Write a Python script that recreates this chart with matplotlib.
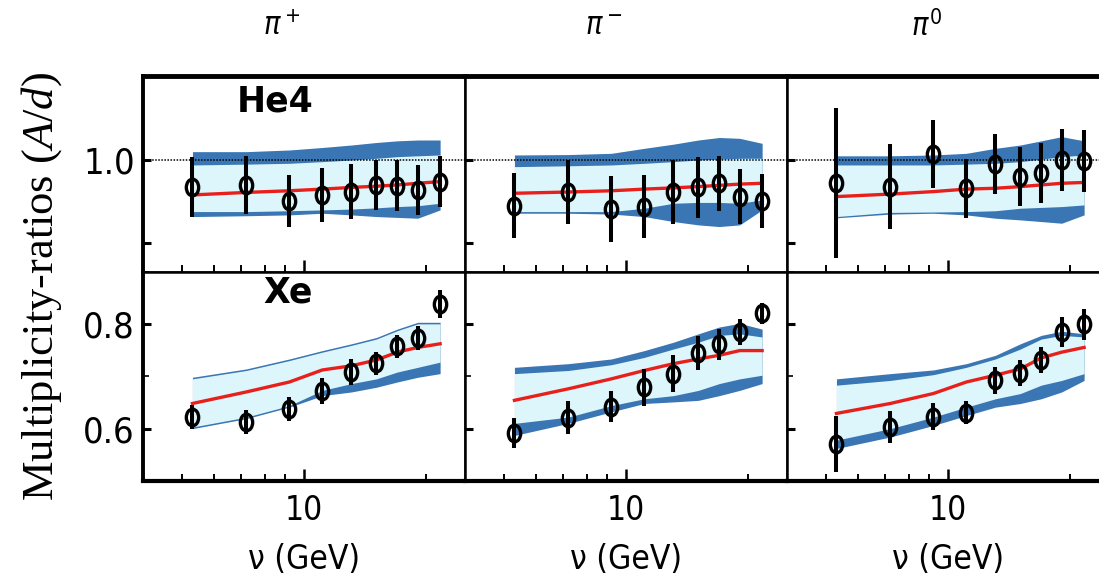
import matplotlib
matplotlib.use("Agg")
import matplotlib.pyplot as plt
from matplotlib import font_manager
from matplotlib.path import Path
from matplotlib.transforms import Affine2D
from matplotlib.ticker import NullFormatter

# nu bins (GeV), shared by all panels
nu = [5.3, 7.2, 9.2, 11.1, 13.1, 15.1, 17.0, 19.1, 21.7]

# ---- He4 / pi+ ----
he_pip = [0.936, 0.940, 0.902, 0.916, 0.924, 0.940, 0.938, 0.928, 0.948]
he_pip_err = [0.072, 0.069, 0.062, 0.065, 0.066, 0.061, 0.061, 0.060, 0.062]
he_pip_model = [0.916, 0.922, 0.926, 0.930, 0.934, 0.937, 0.940, 0.944, 0.948]
he_pip_dark_hi = [1.020, 1.020, 1.024, 1.030, 1.036, 1.042, 1.046, 1.048, 1.048]
he_pip_band_hi = [0.988, 0.990, 0.992, 0.996, 1.000, 1.004, 1.008, 1.010, 1.012]
he_pip_band_lo = [0.876, 0.876, 0.878, 0.880, 0.882, 0.885, 0.888, 0.890, 0.896]
he_pip_dark_lo = [0.864, 0.866, 0.868, 0.872, 0.868, 0.864, 0.862, 0.860, 0.880]

# ---- He4 / pi- ----
he_pim = [0.890, 0.922, 0.882, 0.888, 0.922, 0.934, 0.944, 0.912, 0.902]
he_pim_err = [0.078, 0.077, 0.079, 0.075, 0.077, 0.074, 0.066, 0.066, 0.065]
he_pim_model = [0.920, 0.923, 0.926, 0.930, 0.933, 0.936, 0.939, 0.942, 0.944]
he_pim_dark_hi = [1.012, 1.013, 1.016, 1.028, 1.038, 1.048, 1.054, 1.052, 1.040]
he_pim_band_hi = [0.984, 0.986, 0.988, 0.992, 0.996, 1.000, 1.002, 1.004, 1.004]
he_pim_band_lo = [0.876, 0.876, 0.876, 0.884, 0.896, 0.898, 0.898, 0.896, 0.904]
he_pim_dark_lo = [0.872, 0.872, 0.870, 0.864, 0.852, 0.844, 0.840, 0.844, 0.880]

# ---- He4 / pi0 ----
he_pi0 = [0.944, 0.936, 1.014, 0.932, 0.990, 0.960, 0.968, 1.000, 0.998]
he_pi0_err = [0.180, 0.103, 0.081, 0.071, 0.072, 0.071, 0.072, 0.074, 0.075]
he_pi0_model = [0.912, 0.918, 0.924, 0.930, 0.932, 0.936, 0.940, 0.944, 0.946]
he_pi0_dark_hi = [1.010, 1.010, 1.012, 1.016, 1.028, 1.036, 1.046, 1.056, 1.046]
he_pi0_band_hi = [0.988, 0.988, 0.988, 0.990, 0.992, 0.996, 1.002, 1.008, 1.012]
he_pi0_band_lo = [0.864, 0.874, 0.875, 0.876, 0.878, 0.884, 0.886, 0.888, 0.892]
he_pi0_dark_lo = [0.861, 0.870, 0.872, 0.868, 0.860, 0.856, 0.852, 0.848, 0.868]

# ---- Xe / pi+ ----
xe_pip = [0.622, 0.613, 0.638, 0.672, 0.708, 0.725, 0.757, 0.773, 0.838]
xe_pip_err = [0.023, 0.023, 0.023, 0.025, 0.025, 0.022, 0.022, 0.022, 0.027]
xe_pip_model = [0.648, 0.670, 0.689, 0.712, 0.720, 0.731, 0.746, 0.755, 0.762]
xe_pip_dark_hi = [0.698, 0.714, 0.733, 0.749, 0.762, 0.774, 0.790, 0.803, 0.803]
xe_pip_band_hi = [0.695, 0.711, 0.730, 0.746, 0.759, 0.771, 0.787, 0.800, 0.800]
xe_pip_band_lo = [0.603, 0.622, 0.644, 0.673, 0.686, 0.695, 0.708, 0.717, 0.727]
xe_pip_dark_lo = [0.600, 0.619, 0.641, 0.663, 0.670, 0.679, 0.689, 0.698, 0.705]

# ---- Xe / pi- ----
xe_pim = [0.592, 0.621, 0.642, 0.679, 0.705, 0.744, 0.761, 0.785, 0.820]
xe_pim_err = [0.029, 0.032, 0.030, 0.035, 0.035, 0.033, 0.030, 0.025, 0.020]
xe_pim_model = [0.654, 0.676, 0.695, 0.711, 0.724, 0.733, 0.740, 0.749, 0.749]
xe_pim_dark_hi = [0.717, 0.724, 0.733, 0.749, 0.765, 0.781, 0.794, 0.801, 0.790]
xe_pim_band_hi = [0.705, 0.711, 0.722, 0.736, 0.752, 0.765, 0.778, 0.781, 0.775]
xe_pim_band_lo = [0.610, 0.622, 0.644, 0.657, 0.663, 0.673, 0.686, 0.695, 0.702]
xe_pim_dark_lo = [0.587, 0.610, 0.632, 0.648, 0.651, 0.654, 0.663, 0.673, 0.686]

# ---- Xe / pi0 ----
xe_pi0 = [0.571, 0.603, 0.623, 0.630, 0.692, 0.706, 0.731, 0.784, 0.799]
xe_pi0_err = [0.054, 0.031, 0.025, 0.022, 0.025, 0.025, 0.025, 0.029, 0.029]
xe_pi0_model = [0.629, 0.648, 0.667, 0.689, 0.702, 0.714, 0.735, 0.746, 0.755]
xe_pi0_dark_hi = [0.695, 0.705, 0.712, 0.724, 0.740, 0.762, 0.778, 0.786, 0.781]
xe_pi0_band_hi = [0.683, 0.692, 0.703, 0.717, 0.733, 0.752, 0.771, 0.778, 0.775]
xe_pi0_band_lo = [0.578, 0.600, 0.622, 0.641, 0.657, 0.667, 0.683, 0.692, 0.705]
xe_pi0_dark_lo = [0.562, 0.584, 0.606, 0.625, 0.641, 0.648, 0.657, 0.670, 0.692]

titles = [r"$\pi^+$", r"$\pi^-$", r"$\pi^0$"]
targets = ["He4", "Xe"]

rows = [
    [(he_pip, he_pip_err, he_pip_model, he_pip_dark_hi, he_pip_band_hi, he_pip_band_lo, he_pip_dark_lo),
     (he_pim, he_pim_err, he_pim_model, he_pim_dark_hi, he_pim_band_hi, he_pim_band_lo, he_pim_dark_lo),
     (he_pi0, he_pi0_err, he_pi0_model, he_pi0_dark_hi, he_pi0_band_hi, he_pi0_band_lo, he_pi0_dark_lo)],
    [(xe_pip, xe_pip_err, xe_pip_model, xe_pip_dark_hi, xe_pip_band_hi, xe_pip_band_lo, xe_pip_dark_lo),
     (xe_pim, xe_pim_err, xe_pim_model, xe_pim_dark_hi, xe_pim_band_hi, xe_pim_band_lo, xe_pim_dark_lo),
     (xe_pi0, xe_pi0_err, xe_pi0_model, xe_pi0_dark_hi, xe_pi0_band_hi, xe_pi0_band_lo, xe_pi0_dark_lo)],
]

DARK = "#3a76b3"
CYAN = "#ddf6fb"
RED = "#e8201c"

# the reference uses a narrow sans; take a condensed face if one is installed
fonts = font_manager.fontManager.ttflist
if any(f.name == "DejaVu Sans" and f.stretch == "condensed" for f in fonts):
    plt.rcParams["font.stretch"] = "condensed"
    TICK_Y, TICK_X, XLAB = 26, 24, 24
else:
    TICK_Y, TICK_X, XLAB = 24, 22, 22
plt.rcParams["font.family"] = ["DejaVu Sans"]
plt.rcParams["mathtext.rm"] = "Liberation Serif"
plt.rcParams["mathtext.it"] = "Liberation Serif:italic"

# tall open ellipse as marker
ellipse = Path.unit_circle().transformed(Affine2D().scale(0.74, 1.0))

W, H = 1099, 583
fig = plt.figure(figsize=(W / 100, H / 100), dpi=100)

col_left = [143, 465, 787]
col_w = 322
row_span = [(75.5, 271.5), (271.5, 481)]
ylims = [(0.732, 1.203), (0.5, 0.9)]

for r in range(2):
    for c in range(3):
        top, bot = row_span[r]
        ax = fig.add_axes([col_left[c] / W, 1 - bot / H, col_w / W, (bot - top) / H])
        pts, err, model, dhi, bhi, blo, dlo = rows[r][c]

        ax.fill_between(nu, dlo, dhi, color=DARK, lw=0, zorder=1)
        ax.fill_between(nu, blo, bhi, color=CYAN, lw=0, zorder=2)
        ax.plot(nu, model, color=RED, lw=2.4, zorder=3)
        if r == 0:
            ax.axhline(1.0, color="k", ls=(0, (1, 1)), lw=1.1, zorder=3)
        ax.errorbar(nu, pts, yerr=err, fmt="none", ecolor="k", elinewidth=2.9, zorder=4)
        ax.plot(nu, pts, ls="none", marker=ellipse, ms=12, mfc="none", mec="k", mew=2.4, zorder=5)

        ax.set_xscale("log")
        ax.set_xlim(4, 25)
        ax.set_ylim(*ylims[r])
        ax.set_xticks([10])
        ax.set_xticklabels(["10"])
        ax.set_xticks([5, 6, 7, 8, 9, 20], minor=True)
        ax.xaxis.set_minor_formatter(NullFormatter())
        if r == 0:
            ax.set_yticks([0.8, 1.0])
            ax.set_yticklabels(["", "1.0"])
            ax.set_yticks([], minor=True)
        else:
            ax.set_yticks([0.6, 0.8])
            ax.set_yticklabels(["0.6", "0.8"])
            ax.set_yticks([0.5, 0.7, 0.9], minor=True)

        ax.tick_params(axis="both", which="both", direction="in", top=False, right=False)
        ax.tick_params(axis="y", which="major", length=6, width=2.2, labelsize=TICK_Y, pad=6)
        ax.tick_params(axis="y", which="minor", length=4, width=1.2)
        ax.tick_params(axis="x", which="major", length=9, width=1.8, labelsize=TICK_X, pad=9)
        ax.tick_params(axis="x", which="minor", length=5, width=1.4)
        if r == 0:
            ax.tick_params(axis="x", labelbottom=False)
        else:
            ax.set_xlabel("ν (GeV)", fontsize=XLAB, labelpad=12)
        if c > 0:
            ax.tick_params(axis="y", labelleft=False)

        for s in ax.spines.values():
            s.set_linewidth(1.8)
        if r == 0:
            ax.spines["top"].set_linewidth(3.5)
        else:
            ax.spines["bottom"].set_linewidth(3.0)
        if c == 0:
            ax.spines["left"].set_linewidth(2.8)

        if c == 0:
            ypos = 0.865 if r == 0 else 0.898
            xpos = 0.41 if r == 0 else 0.449
            ax.text(xpos, ypos, targets[r], transform=ax.transAxes, ha="center", va="center",
                    fontsize=25, fontweight="heavy", fontstretch="normal")

for c, t in enumerate(titles):
    fig.text((col_left[c] + 139) / W, 1 - 26 / H, t, ha="center", va="center",
             fontsize=22, math_fontfamily="dejavusans")

fig.text(42 / W, 1 - 287 / H, "Multiplicity-ratios $(A/d)$", rotation=90, ha="center",
         va="center", fontsize=32, family="Liberation Serif", math_fontfamily="custom")

fig.savefig("out.png", dpi=100)
